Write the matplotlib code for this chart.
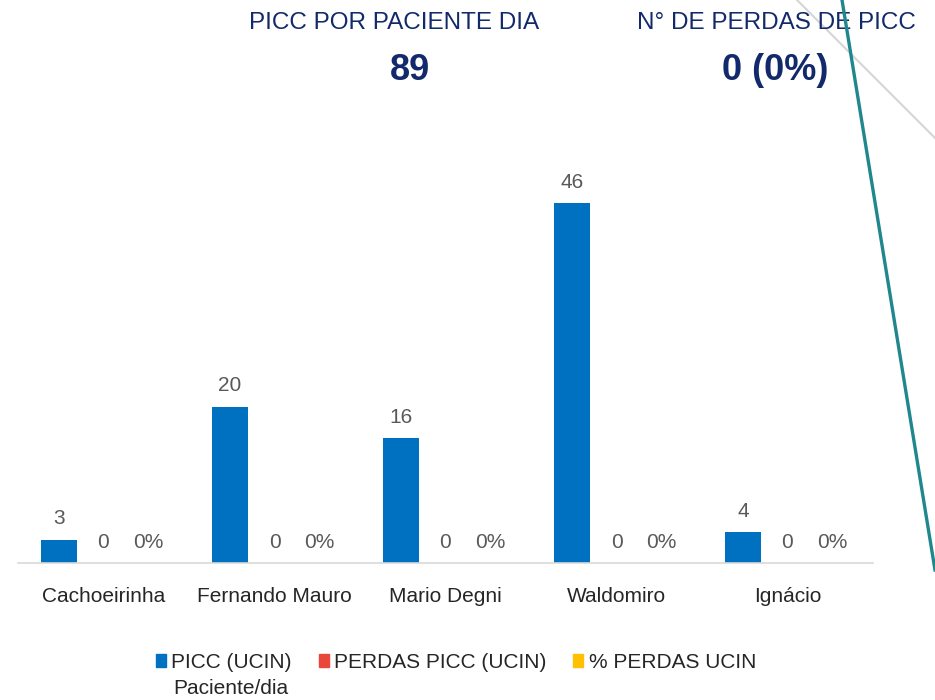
import matplotlib.pyplot as plt
import numpy as np
from matplotlib.patches import Patch
from matplotlib.lines import Line2D

plt.rcParams['font.family'] = ['Liberation Sans', 'DejaVu Sans']

# data
units = ['Cachoeirinha', 'Fernando Mauro', 'Mario Degni', 'Waldomiro', 'Ignácio']
picc = [3, 20, 16, 46, 4]
perdas = [0, 0, 0, 0, 0]
pct_perdas = [0, 0, 0, 0, 0]
series_names = ['PICC (UCIN)', 'PERDAS PICC (UCIN)', '% PERDAS UCIN']
total_picc = 89
total_perdas = '0 (0%)'

blue = '#0070C0'
red = '#E8473A'
yellow = '#FFC000'
navy = '#12296B'
grey_txt = '#595959'
fs = 15

fig = plt.figure(figsize=(9.35, 7.0), dpi=100)
ax = fig.add_axes([18/935, 1-563/700, 855/935, (563-150)/700])

x = np.arange(len(units))
w = 0.21
off = 0.26
b1 = ax.bar(x-off, picc, w, color=blue, zorder=2)
b2 = ax.bar(x, perdas, w, color=red, zorder=2)
b3 = ax.bar(x+off, pct_perdas, w, color=yellow, zorder=2)

ax.bar_label(b1, labels=[str(v) for v in picc], padding=8, fontsize=fs, color=grey_txt)
ax.bar_label(b2, labels=[str(v) for v in perdas], padding=8, fontsize=fs, color=grey_txt)
ax.bar_label(b3, labels=[f'{v}%' for v in pct_perdas], padding=8, fontsize=fs, color=grey_txt)

ax.set_xlim(-0.5, len(units)-0.5)
ax.set_ylim(0, 52.8)
ax.set_xticks(x)
ax.set_xticklabels(units, fontsize=fs, color='#262626')
ax.set_yticks([])
ax.tick_params(axis='x', length=0, pad=17)
for s in ['top', 'right', 'left']:
    ax.spines[s].set_visible(False)
ax.spines['bottom'].set_color('#D9D9D9')
ax.spines['bottom'].set_linewidth(1.2)
ax.patch.set_visible(False)

# header numbers
fig.text(394/935, 1-23/700, 'PICC POR PACIENTE DIA', ha='center', va='center',
         fontsize=17.5, color=navy)
fig.text(410/935, 1-70/700, str(total_picc), ha='center', va='center',
         fontsize=26, fontweight='bold', color=navy)
fig.text(776/935, 1-23/700, 'N° DE PERDAS DE PICC', ha='center', va='center',
         fontsize=17.5, color=navy)
fig.text(775/935, 1-70/700, total_perdas, ha='center', va='center',
         fontsize=26, fontweight='bold', color=navy)

# decorative lines
fig.add_artist(Line2D([797/935, 1.0], [1.0, 1-138/700], transform=fig.transFigure,
                      color='#D5D5D5', lw=1.5, zorder=0))
fig.add_artist(Line2D([842/935, 1.0], [1.0, 1-570/700], transform=fig.transFigure,
                      color='#1F878D', lw=2.4, zorder=5))

handles = [Patch(color=c) for c in [blue, red, yellow]]
leg = fig.legend(handles, series_names, loc='center', bbox_to_anchor=(456/935, 1-662/700),
                 ncol=3, frameon=False, fontsize=fs, handlelength=0.48, handleheight=0.6,
                 handletextpad=0.25, columnspacing=1.3)
for t in leg.get_texts():
    t.set_color('#262626')
fig.text(173/935, 1-688/700, 'Paciente/dia', ha='left', va='center', fontsize=fs, color='#262626')

fig.savefig('out.png', dpi=100)
